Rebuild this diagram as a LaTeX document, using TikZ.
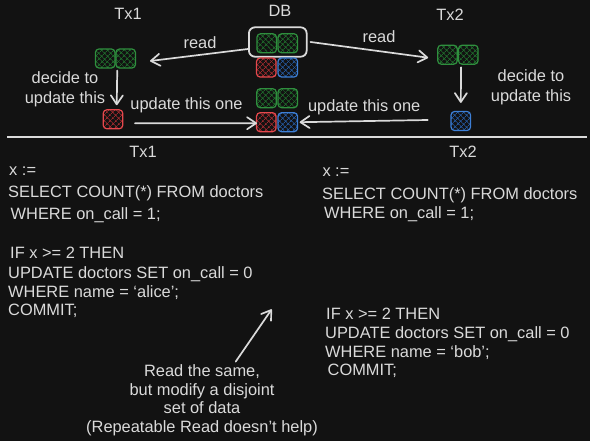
\documentclass[tikz,border=0pt]{standalone}
\usepackage{fontspec}
\setmainfont{Liberation Sans}
\usetikzlibrary{arrows.meta,patterns.meta}
\definecolor{bg}{HTML}{121212}
\definecolor{fg}{HTML}{DADADA}
\definecolor{gstroke}{HTML}{2F8F3E}
\definecolor{ghatch}{HTML}{1F6B2B}
\definecolor{rstroke}{HTML}{E5484D}
\definecolor{rhatch}{HTML}{A02A2E}
\definecolor{bstroke}{HTML}{3D7FD6}
\definecolor{bhatch}{HTML}{24579C}
\tikzset{
  txt/.style={text=fg, font=\fontsize{16.4}{19}\selectfont, inner sep=0pt, anchor=base},
  code/.style={txt, anchor=base west},
  cell/.style={minimum width=19.5pt, minimum height=19pt, inner sep=0pt,
    rounded corners=3.5pt, line width=1.2pt, draw=#1stroke,
    pattern={Hatch[angle=45,distance=4pt,line width=0.7pt]}, pattern color=#1hatch},
  arr/.style={draw=fg, line width=1.7pt, line cap=round,
    -{Straight Barb[length=9pt,width=12pt,line width=1.7pt,round]}},
  frame/.style={draw=fg, line width=1.8pt, rounded corners=6pt, inner sep=0pt},
}
\begin{document}
\begin{tikzpicture}[x=1pt,y=-1pt]
\fill[bg] (0,0) rectangle (590,441);

% headers
\node[txt] (hTx1) at (128,19.2) {Tx1};
\node[txt] (hDB) at (280,16.9) {DB};
\node[txt] (hTx2) at (450,20.9) {Tx2};

% DB frame and cells
\node[frame, minimum width=57.7pt, minimum height=29.4pt] (dbframe) at (277.8,42) {};
\node[cell=g] (dbg1) at (266.7,43.3) {};
\node[cell=g] (dbg2) at (287.8,43.3) {};
\node[cell=r] (dbr1) at (266.3,67.5) {};
\node[cell=b] (dbb1) at (287.8,67.5) {};
\node[cell=g] (dbg3) at (266.5,98.2) {};
\node[cell=g] (dbg4) at (287.8,98.2) {};
\node[cell=r] (dbr2) at (266.3,122.2) {};
\node[cell=b] (dbb2) at (287.8,122.2) {};

% Tx1 cells
\node[cell=g] (t1g1) at (105.2,58.5) {};
\node[cell=g] (t1g2) at (125.7,58.5) {};
\node[cell=r] (t1r) at (113,119.3) {};

% Tx2 cells
\node[cell=g] (t2g1) at (447.5,54.7) {};
\node[cell=g] (t2g2) at (468.3,54.7) {};
\node[cell=b] (t2b) at (460.8,121) {};

% labels
\node[txt] (readL) at (200,48.3) {read};
\node[txt] (readR) at (379,42.7) {read};
\node[txt] (updL) at (186.5,110) {update this one};
\node[txt] (updR) at (364.2,111.9) {update this one};
\node[txt] (decL1) at (65,84) {decide to};
\node[txt] (decL2) at (65,103.6) {update this};
\node[txt] (decR1) at (531,81.7) {decide to};
\node[txt] (decR2) at (531,101.2) {update this};

% arrows
\draw[arr] ([yshift=-7pt]dbframe.west) -- ([xshift=14pt,yshift=-2.5pt]t1g2.east);
\draw[arr] ([xshift=3pt]dbframe.east) -- ([xshift=-9pt,yshift=-3pt]t2g1.west);
\draw[arr] ([xshift=1.7pt,yshift=-2pt]t1g1.south east) -- ([xshift=3.7pt,yshift=4pt]t1r.north);
\draw[arr] ([xshift=3.2pt,yshift=-2.5pt]t2g1.south east) -- ([yshift=8pt]t2b.north);
\draw[arr] ([xshift=11.6pt,yshift=-4pt]t1r.east) -- ([xshift=1pt,yshift=-1pt]dbr2.west);
\draw[arr] ([xshift=-22.7pt,yshift=1pt]t2b.west) -- ([xshift=1.5pt]dbb2.east);

% separator
\coordinate (sepL) at (7,137);
\coordinate (sepR) at (587,137);
\draw[fg, line width=2pt] (sepL) -- (sepR);

% column headers
\node[txt] (cTx1) at (143,157.5) {Tx1};
\node[txt] (cTx2) at (463,157.5) {Tx2};

% Tx1 code
\node[code] (a1) at (9,176) {x :=};
\node[code] (a2) at (8,197.6) {SELECT COUNT(*) FROM doctors};
\node[code] (a3) at (10.5,219.2) {WHERE on\_call = 1;};
\node[code] (a4) at (10,258.2) {IF x >= 2 THEN};
\node[code] (a5) at (8,278.2) {UPDATE doctors SET on\_call = 0};
\node[code] (a6) at (8,297.6) {WHERE name = ‘alice’;};
\node[code] (a7) at (8,315.2) {COMMIT;};

% Tx2 code
\node[code] (b1) at (322.3,176.9) {x :=};
\node[code] (b2) at (322,199.2) {SELECT COUNT(*) FROM doctors};
\node[code] (b3) at (324,218.6) {WHERE on\_call = 1;};
\node[code] (b4) at (326,319.2) {IF x >= 2 THEN};
\node[code] (b5) at (325,338.6) {UPDATE doctors SET on\_call = 0};
\node[code] (b6) at (325,357.6) {WHERE name = ‘bob’;};
\node[code] (b7) at (327.5,375.2) {COMMIT;};

% note
\node[txt] (n1) at (202,376.7) {Read the same,};
\node[txt] (n2) at (202,395.2) {but modify a disjoint};
\node[txt] (n3) at (202,413.7) {set of data};
\node[txt] (n4) at (202,432.2) {(Repeatable Read doesn't help)};
\coordinate (notetip) at (271.7,309.3);
\draw[arr] ([xshift=33.7pt,yshift=3pt]n1.north) -- (notetip);
\end{tikzpicture}
\end{document}
